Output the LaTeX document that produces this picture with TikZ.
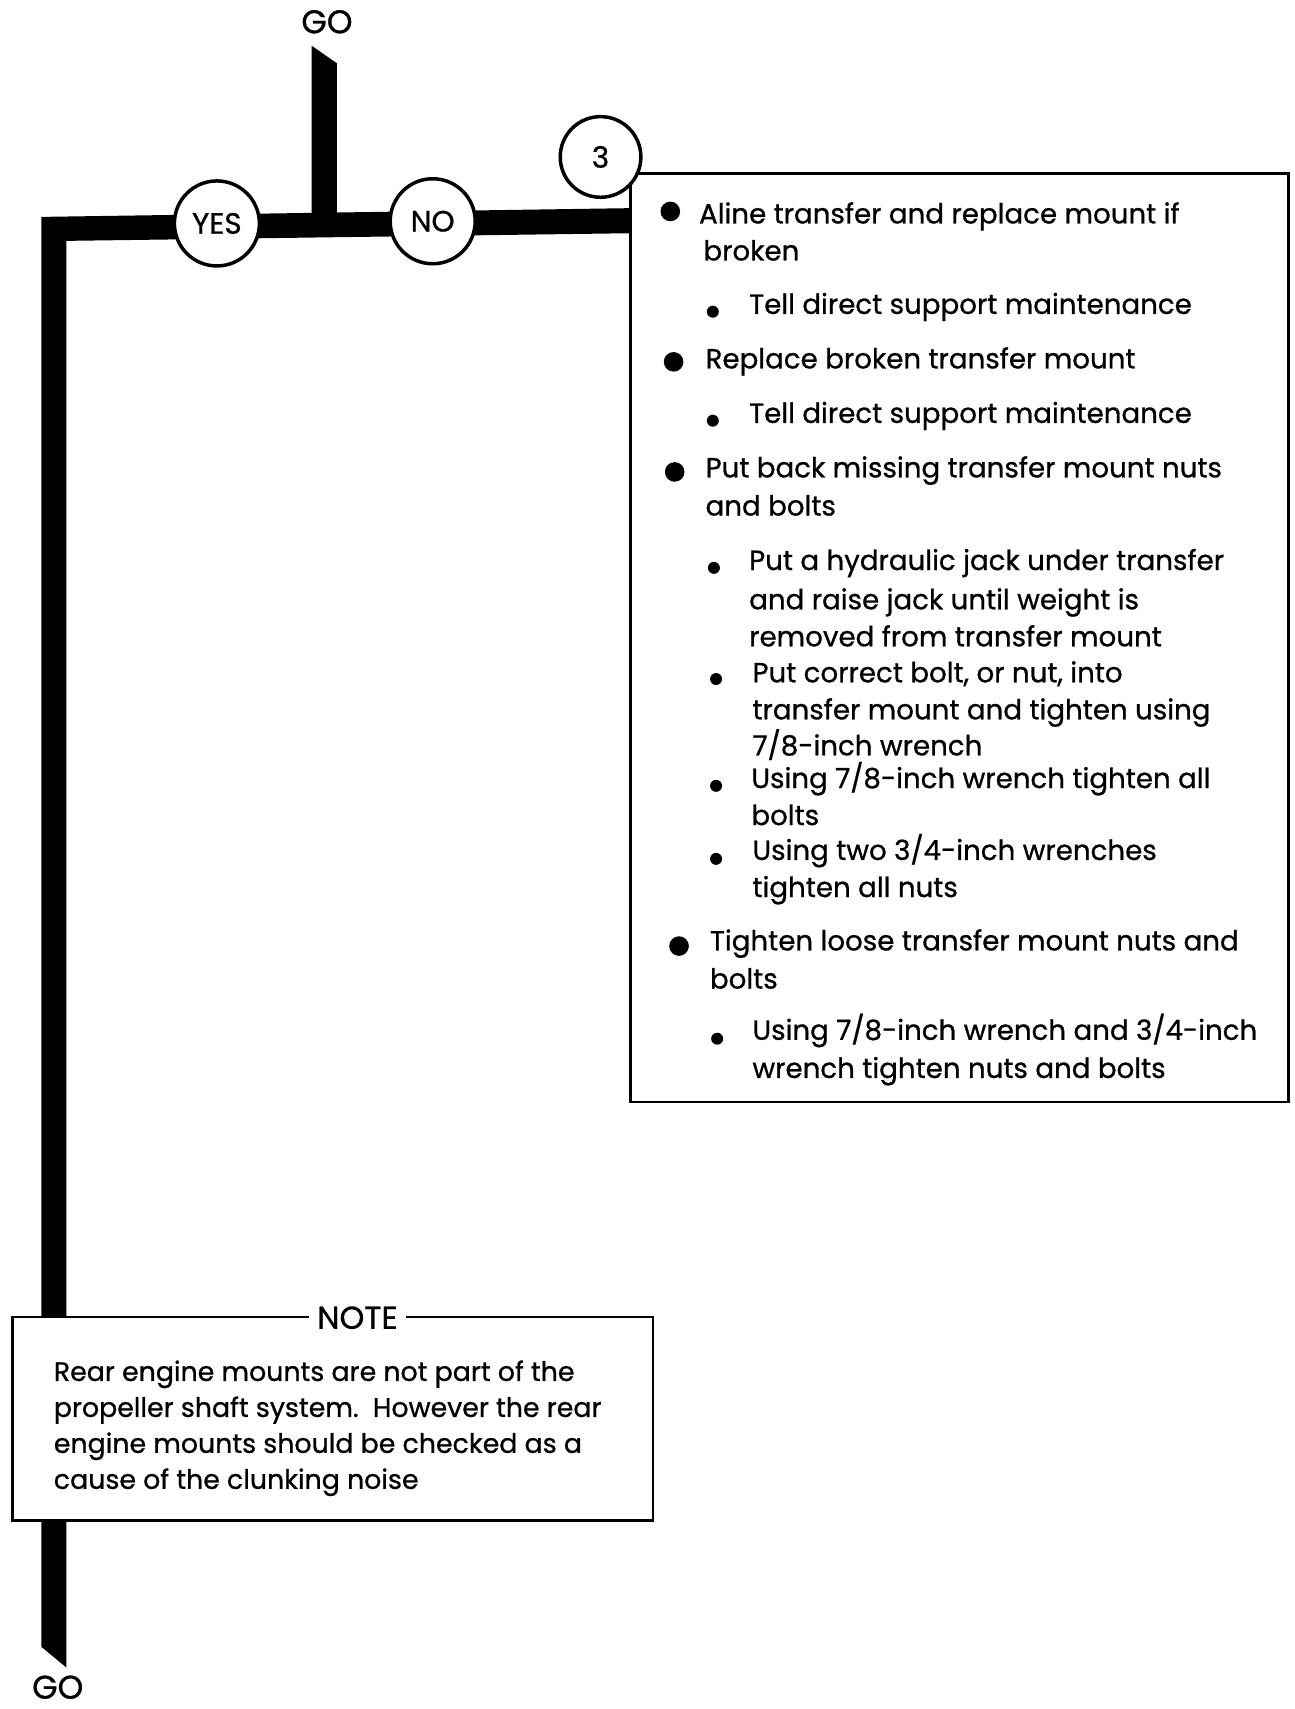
\documentclass[tikz,border=0pt]{standalone}
\usepackage{fontspec}
\setmainfont{Poppins}[FakeBold=0.8]
\begin{document}
\begin{tikzpicture}[x=0.5pt,y=-0.5pt,
  txt/.style={anchor=base west, inner sep=0pt, font=\fontsize{12.7}{15}\selectfont},
  ntxt/.style={anchor=base west, inner sep=0pt, font=\fontsize{12.3}{15}\selectfont},
  golbl/.style={inner sep=0pt, font=\fontsize{15}{18}\selectfont},
  bigdot/.style={circle, fill=black, inner sep=0pt, minimum size=9pt},
  smalldot/.style={circle, fill=black, inner sep=0pt, minimum size=5.5pt},
  ring/.style={circle, draw=black, line width=1.6pt, fill=white, minimum size=39pt, inner sep=0pt, font=\fontsize{13.5}{16}\selectfont},
  framebox/.style={draw=black, line width=1.2pt, fill=white, inner sep=0pt}]
\path[use as bounding box] (0,0) rectangle (1188,1568);

% connector coordinates
\coordinate (tA) at (286,42);
\coordinate (tB) at (309,58);
\coordinate (tC) at (309,205);
\coordinate (tD) at (286,205);
\coordinate (hA) at (38,199);
\coordinate (hB) at (577,191);
\coordinate (hC) at (577,214);
\coordinate (hD) at (61,221);
\coordinate (vB) at (61,1530);
\coordinate (vA) at (38,1511);

% thick flow bars
\fill[black] (tA) -- (tB) -- (tC) -- (tD) -- cycle;
\fill[black] (hA) -- (hB) -- (hC) -- (hD) -- (vB) -- (vA) -- cycle;

% GO labels
\node[golbl] (gotop) at (300,20) {GO};
\node[golbl] (gobot) at (53,1548) {GO};

% main box
\node[framebox, anchor=north west, minimum width=302pt, minimum height=426pt] (mainbox) at (577,158) {};

% circles
\node[ring] (yes) at (199,205) {YES};
\node[ring] (no) at (397,203) {NO};
\node[ring, minimum size=37pt] (three) at (551,144) {3};

% bullets and text in main box
\node[bigdot] (b1) at (615,194) {};
\node[txt] (l1) at (641,205) {Aline transfer and replace mount if};
\node[txt] (l2) at (645,239) {broken};
\node[smalldot] (b2) at (654,286) {};
\node[txt] (l3) at (687,288) {Tell direct support maintenance};
\node[bigdot] (b3) at (618,332) {};
\node[txt] (l4) at (647,338) {Replace broken transfer mount};
\node[smalldot] (b4) at (654,386) {};
\node[txt] (l5) at (687,388) {Tell direct support maintenance};
\node[bigdot] (b5) at (619,433) {};
\node[txt] (l6) at (647,438) {Put back missing transfer mount nuts};
\node[txt] (l7) at (647,473) {and bolts};
\node[smalldot] (b6) at (655,521) {};
\node[txt] (l8) at (687,523) {Put a hydraulic jack under transfer};
\node[txt] (l9) at (687,559) {and raise jack until weight is};
\node[txt] (l10) at (687,593) {removed from transfer mount};
\node[smalldot] (b7) at (657,623) {};
\node[txt] (l11) at (690,626) {Put correct bolt, or nut, into};
\node[txt] (l12) at (690,660) {transfer mount and tighten using};
\node[txt] (l13) at (690,693) {7/8-inch wrench};
\node[smalldot] (b8) at (657,721) {};
\node[txt] (l14) at (689,723) {Using 7/8-inch wrench tighten all};
\node[txt] (l15) at (689,757) {bolts};
\node[smalldot] (b9) at (657,788) {};
\node[txt] (l16) at (690,789) {Using two 3/4-inch wrenches};
\node[txt] (l17) at (690,823) {tighten all nuts};
\node[bigdot] (b10) at (623,868) {};
\node[txt] (l18) at (651,872) {Tighten loose transfer mount nuts and};
\node[txt] (l19) at (651,907) {bolts};
\node[smalldot] (b11) at (658,953) {};
\node[txt] (l20) at (690,954) {Using 7/8-inch wrench and 3/4-inch};
\node[txt] (l21) at (690,989) {wrench tighten nuts and bolts};

% note box
\node[framebox, anchor=north west, minimum width=294pt, minimum height=93.5pt] (notebox) at (10,1207) {};
\node[fill=white, inner xsep=4pt, inner ysep=1pt, font=\fontsize{14.5}{17}\selectfont] (notelbl) at (328,1209) {NOTE};
\node[ntxt] (n1) at (49,1267) {Rear engine mounts are not part of the};
\node[ntxt] (n2) at (49,1300) {propeller shaft system.\ \ However the rear};
\node[ntxt] (n3) at (49,1333) {engine mounts should be checked as a};
\node[ntxt] (n4) at (49,1366) {cause of the clunking noise};
\end{tikzpicture}
\end{document}
